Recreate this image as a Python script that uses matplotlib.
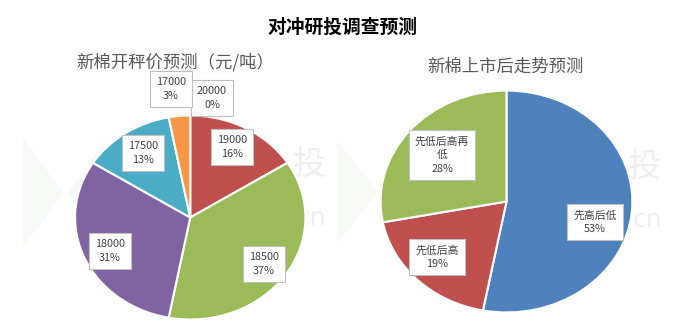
import matplotlib
matplotlib.use("Agg")
import matplotlib.pyplot as plt
from matplotlib.patches import Polygon

plt.rcParams['font.family'] = ['Noto Sans CJK SC', 'DejaVu Sans']

# ---------------------------------------------------------------- data
price_labels = ['20000', '19000', '18500', '18000', '17500', '17000']
price_share = [0, 16, 37, 31, 13, 3]
price_colors = ['#4F81BD', '#C0504D', '#9BBB59', '#8064A2', '#4BACC6', '#F79646']

trend_labels = ['先高后低', '先低后高', '先低后高再\n低']
trend_share = [53, 19, 28]
trend_colors = ['#4F81BD', '#C0504D', '#9BBB59']

W, H = 685, 325

# label box centres (pixels, top-left origin)
price_label_pos = [(212, 98), (232, 147), (264, 264), (110, 251), (143, 153), (171, 89)]
trend_label_pos = [(595, 222), (437, 257), (442, 155)]

fig = plt.figure(figsize=(W / 100, H / 100), dpi=100)
fig.patch.set_facecolor('white')

# ---------------------------------------------------------------- watermark
bg = fig.add_axes([0, 0, 1, 1], zorder=-5)
bg.set_xlim(0, W)
bg.set_ylim(H, 0)
bg.axis('off')
for tri, col in [([(23, 138), (63, 193), (23, 247)], '#f8faf6'),
                 ([(68, 193), (105, 140), (105, 247)], '#f6f9fb'),
                 ([(337, 140), (378, 192), (337, 243)], '#f8faf6')]:
    bg.add_patch(Polygon(tri, closed=True, fc=col, ec='none'))
for x, y in [(310, 165), (645, 167)]:
    bg.text(x, y, '投', fontsize=24, color='#efefef', ha='center', va='center')
for x, y in [(311, 218), (647, 220)]:
    bg.text(x, y, 'cn', fontsize=18, color='#efefef', ha='center', va='center',
            family='DejaVu Sans')


def pie_axes(box, values, colors):
    x0, y0, x1, y1 = box
    ax = fig.add_axes([x0 / W, 1 - y1 / H, (x1 - x0) / W, (y1 - y0) / H])
    ax.pie(values, colors=colors, startangle=90, counterclock=False,
           wedgeprops=dict(edgecolor='white', linewidth=1.5))
    ax.set_aspect('auto')
    ax.set_xlim(-1.005, 1.005)
    ax.set_ylim(-1.005, 1.005)
    ax.patch.set_alpha(0)
    return ax


pie_axes((74.5, 115, 306, 320), price_share, price_colors)
pie_axes((380, 90, 633, 313), trend_share, trend_colors)


def box_label(px, py, txt):
    fig.text(px / W, 1 - py / H, txt, ha='center', va='center', fontsize=7.8,
             color='#404040', linespacing=1.4,
             bbox=dict(boxstyle='square,pad=0.55', fc='white', ec='#bfbfbf', lw=0.8))


for (px, py), lab, v in zip(price_label_pos, price_labels, price_share):
    box_label(px, py, '%s\n%d%%' % (lab, v))
for (px, py), lab, v in zip(trend_label_pos, trend_labels, trend_share):
    box_label(px, py, '%s\n%d%%' % (lab, v))

# ---------------------------------------------------------------- titles
fig.text(342 / W, 1 - 27 / H, '对冲研投调查预测', ha='center', va='center',
         fontsize=13.5, fontweight='bold', color='black')
fig.text(175 / W, 1 - 62 / H, '新棉开秤价预测（元/吨）', ha='center', va='center',
         fontsize=12.5, color='#595959')
fig.text(505 / W, 1 - 67 / H, '新棉上市后走势预测', ha='center', va='center',
         fontsize=12.5, color='#595959')

fig.savefig('out.png', dpi=100)
